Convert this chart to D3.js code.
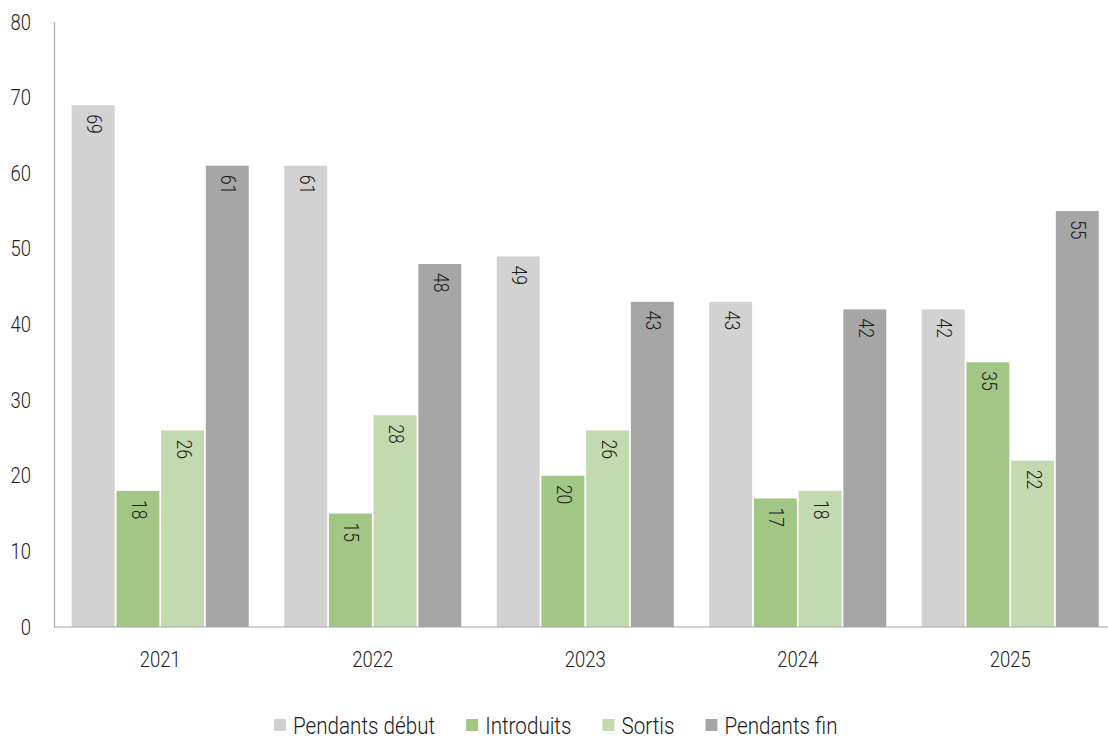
<!DOCTYPE html>
<html>
<head>
<meta charset="utf-8">
<script src="https://cdn.jsdelivr.net/npm/d3@7"></script>
<style>
  html, body { margin: 0; padding: 0; background: #fff; }
  svg { display: block; }
  text { font-family: Roboto, "Noto Sans", sans-serif; font-weight: 300; fill: #222; }
</style>
</head>
<body>
<svg id="chart" width="1108" height="738"></svg>
<script>
const years = ["2021", "2022", "2023", "2024", "2025"];
const seriesNames = ["Pendants début", "Introduits", "Sortis", "Pendants fin"];
const pendantsDebut = [69, 61, 49, 43, 42];
const introduits = [18, 15, 20, 17, 35];
const sortis = [26, 28, 26, 18, 22];
const pendantsFin = [61, 48, 43, 42, 55];
const colors = ["#d2d2d2", "#a2c785", "#c3dab0", "#a6a6a6"];
const yTicks = [0, 10, 20, 30, 40, 50, 60, 70, 80];

const seriesValues = [pendantsDebut, introduits, sortis, pendantsFin];
const SX = 0.84;

const svg = d3.select("#chart");

const x0 = d3.scaleBand().domain(years).range([54, 1116.5]).paddingInner(0.167).paddingOuter(0.0835);
const x1 = d3.scaleBand().domain(seriesNames).range([0, x0.bandwidth()]).paddingInner(0.04);
const y = d3.scaleLinear().domain([0, 80]).range([627, 22]);
const color = d3.scaleOrdinal().domain(seriesNames).range(colors);

// bars
const groups = svg.append("g").selectAll("g").data(years).join("g")
  .attr("transform", d => `translate(${x0(d)},0)`);

groups.each(function(year, i) {
  const g = d3.select(this);
  const rows = seriesNames.map((s, k) => ({ s, v: seriesValues[k][i] }));
  g.selectAll("rect").data(rows).join("rect")
    .attr("x", d => x1(d.s))
    .attr("y", d => y(d.v))
    .attr("width", x1.bandwidth())
    .attr("height", d => y(0) - y(d.v))
    .attr("fill", d => color(d.s));
  g.selectAll("text").data(rows).join("text")
    .attr("transform", d => `translate(${x1(d.s) + x1.bandwidth() / 2 + 1},${y(d.v) + 9}) rotate(90) scale(${SX},1)`)
    .attr("dominant-baseline", "central")
    .attr("text-anchor", "start")
    .style("font-size", "21px")
    .style("fill", "#1a1a1a")
    .text(d => d.v);
});

// y axis
const yAxis = svg.append("g").attr("transform", "translate(54,0)")
  .call(d3.axisLeft(y).tickValues(yTicks).tickSize(0).tickPadding(23));
yAxis.select(".domain").attr("stroke", "#a6a6a6").attr("stroke-width", 1.2);
yAxis.selectAll(".tick text")
  .attr("x", -23 / SX)
  .attr("transform", `scale(${SX},1)`)
  .style("font-size", "22px")
  .style("font-family", "Roboto, sans-serif")
  .style("font-weight", 300)
  .style("fill", "#222");

// x axis
const xAxis = svg.append("g").attr("transform", `translate(0,${y(0)})`)
  .call(d3.axisBottom(x0).tickSize(0).tickPadding(24));
xAxis.select(".domain").remove();
xAxis.append("line").attr("x1", 54).attr("x2", 1108).attr("y1", 0).attr("y2", 0)
  .attr("stroke", "#a6a6a6").attr("stroke-width", 1.2);
xAxis.selectAll(".tick text")
  .attr("transform", `scale(${SX},1)`)
  .style("font-size", "22px")
  .style("font-family", "Roboto, sans-serif")
  .style("font-weight", 300)
  .style("fill", "#222");

// legend
const LSX = 0.86;
const legend = svg.append("g").attr("transform", "translate(274,725)");
let lx = 0;
seriesNames.forEach((name, k) => {
  const item = legend.append("g").attr("transform", `translate(${lx},0)`);
  item.append("rect").attr("x", 0).attr("y", -6).attr("width", 12).attr("height", 12).attr("fill", colors[k]);
  const t = item.append("text")
    .attr("transform", `translate(19,0) scale(${LSX},1)`)
    .attr("dominant-baseline", "central")
    .style("font-size", "24px")
    .style("fill", "#1a1a1a")
    .text(name);
  const w = t.node().getComputedTextLength() * LSX;
  lx += 19 + w + 31;
});
</script>
</body>
</html>
